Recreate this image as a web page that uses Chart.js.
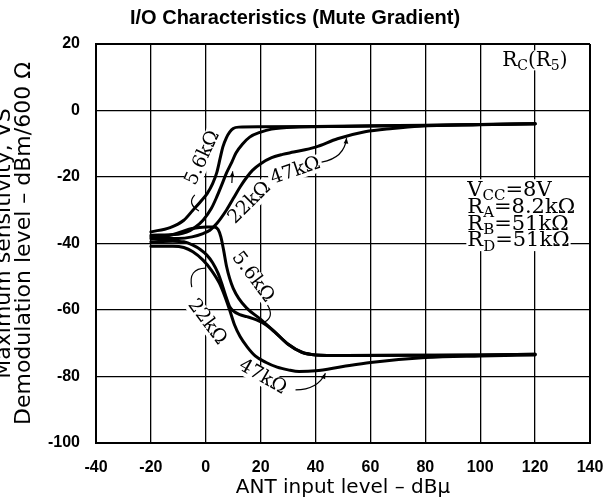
<!DOCTYPE html>
<html>
<head>
<meta charset="utf-8">
<title>I/O Characteristics (Mute Gradient)</title>
<script src="https://cdn.jsdelivr.net/npm/chart.js@4.4.1/dist/chart.umd.min.js"></script>
<style>
    html, body { margin: 0; padding: 0; background: #fff; }
    #wrap { width: 603px; height: 499px; }
</style>
</head>
<body>
<div id="wrap"><canvas id="myChart" width="603" height="499"></canvas></div>
<script>
// Tick values of the two axes
const xTickValues = [-40, -20, 0, 20, 40, 60, 80, 100, 120, 140];
const yTickValues = [20, 0, -20, -40, -60, -80, -100];

// Upper group (mute off), one curve per R_C
const up56X = [-20, -13, -8, -4.7, -2, 0.5, 2.5, 4, 5.2, 6.2, 7.5, 8.7, 10, 12, 20, 40, 60, 80, 100, 120];
const up56Y = [-36.5, -35.2, -33, -30, -27.5, -25, -22, -18.7, -14.5, -11, -8.2, -6.5, -5.4, -5, -4.9, -4.8, -4.6, -4.4, -4.2, -4];
const up22X = [-20, -10, -7, -4, -1, 2, 4, 6, 7.6, 9.5, 11, 13.5, 16, 20, 24, 34, 50, 80, 100, 120];
const up22Y = [-37.5, -37.2, -36.6, -35.2, -33, -29.5, -26, -22, -18.7, -15.5, -12.8, -10, -8, -6.5, -5.6, -5, -4.8, -4.5, -4.2, -4];
const up47X = [-20, -10, -5, -1, 1.5, 4, 7.5, 10, 12.5, 15, 17, 20, 24, 28, 32, 40, 48, 58, 68, 78, 100, 120];
const up47Y = [-38.5, -38.5, -38, -37, -36, -34, -30, -26.5, -23, -20, -18, -16, -14.2, -13.2, -12.5, -11, -8.5, -6.4, -5.4, -4.7, -4.3, -4];

// Lower group (mute on)
const lo56X = [-20, -13, -9, -5, 0, 3, 4.5, 5.5, 6.5, 7.6, 8.7, 10, 12, 15, 20, 25, 30, 35, 40, 50, 80, 100, 120];
const lo56Y = [-38, -37.5, -36.5, -35.5, -35, -35, -35.8, -38, -42, -47, -50.5, -53.5, -56.5, -59.5, -62.8, -66.5, -70.3, -72.7, -73.5, -73.7, -73.6, -73.5, -73.3];
const lo22X = [-20, -12, -8, -4.7, -2, 0.4, 2.5, 4.5, 6.2, 7.5, 8.7, 10, 12.4, 15, 18.5, 22, 25, 30, 35, 40, 50, 80, 100, 120];
const lo22Y = [-39.5, -39.3, -39.5, -40.5, -41.8, -43.5, -45.8, -49, -53, -56.3, -59, -60.3, -61.4, -62, -63, -64.5, -66.5, -70.3, -72.7, -73.5, -73.7, -73.6, -73.5, -73.3];
const lo47X = [-20, -12, -8, -4.7, -1, 2, 5, 7, 8.7, 10.5, 12.5, 15, 18, 22, 26, 30, 34, 40, 50, 60, 80, 100, 120];
const lo47Y = [-40.8, -40.8, -41.2, -42.5, -45, -48, -52, -56, -60, -64.5, -68, -71, -73.8, -75.8, -77.2, -78, -78.5, -78.3, -77, -75.8, -74.3, -73.8, -73.5];

// Curve labels (data coordinates, rotation in degrees)
const curveLabels = [
    { text: '5.6kΩ', x: -1.1, y: -14.3, angle: -65 },
    { text: '22kΩ', x: 16, y: -27.8, angle: -45 },
    { text: '47kΩ', x: 32.7, y: -18.2, angle: -19 },
    { text: '5.6kΩ', x: 17.1, y: -50.1, angle: 53 },
    { text: '22kΩ', x: 0.4, y: -63.6, angle: 53 },
    { text: '47kΩ', x: 20.7, y: -80.2, angle: 30 }
];

// Leader lines: start, control, end (data coordinates), arrow at end or not
const leaders = [
    { p: [[-4, -25.4], [-7, -28], [-2.5, -30.2]], arrow: false },
    { p: [[9.5, -21.8], [9.6, -20], [9.8, -18.3]], arrow: true },
    { p: [[42.2, -15.5], [50.5, -14.3], [51.3, -8.3]], arrow: true },
    { p: [[22.5, -58.5], [25, -62], [21.5, -63.6]], arrow: false },
    { p: [[-5.1, -53.1], [-6.5, -47.5], [0, -47.4]], arrow: false },
    { p: [[32.7, -84], [40.7, -84], [43.6, -79]], arrow: true }
];

// Condition texts: [text, subscript]
const rcLabel = [['R', 0], ['C', 1], ['(R', 0], ['5', 1], [')', 0]];
const paramLines = [
    [['V', 0], ['CC', 1], ['=8V', 0]],
    [['R', 0], ['A', 1], ['=8.2kΩ', 0]],
    [['R', 0], ['B', 1], ['=51kΩ', 0]],
    [['R', 0], ['D', 1], ['=51kΩ', 0]]
];
const paramX = 95.3;
const paramY = [-25.6, -30.7, -35.8, -40.9];

// Build {x, y} points from two arrays
function toPoints(xs, ys) {
    return xs.map((x, i) => ({ x: x, y: ys[i] }));
}

function richWidth(ctx, parts, size) {
    const subSize = Math.round(size * 0.72);
    let total = 0;
    parts.forEach(([t, sub]) => {
        ctx.font = (sub ? subSize : size) + 'px "DejaVu Serif"';
        total += ctx.measureText(t).width;
    });
    return total;
}

// White box behind a text line, so the grid does not run through it
function clearRich(ctx, parts, x, y, size) {
    ctx.fillStyle = '#fff';
    ctx.fillRect(x - 1, y - size * 0.78, richWidth(ctx, parts, size) + 2, size * 1.0);
}

// Draw text with subscripts
function drawRich(ctx, parts, x, y, size) {
    const subSize = Math.round(size * 0.72);
    ctx.fillStyle = '#000';
    ctx.textAlign = 'left';
    ctx.textBaseline = 'alphabetic';
    let cx = x;
    parts.forEach(([t, sub]) => {
        ctx.font = (sub ? subSize : size) + 'px "DejaVu Serif"';
        ctx.fillText(t, cx, sub ? y + size * 0.22 : y);
        cx += ctx.measureText(t).width;
    });
}

// Plugin for the texts and leaders drawn on the plot
const annotationPlugin = {
    id: 'annotations',
    beforeDatasetsDraw(chart) {
        const ctx = chart.ctx;
        const px = v => chart.scales.x.getPixelForValue(v);
        const py = v => chart.scales.y.getPixelForValue(v);
        ctx.save();

        curveLabels.forEach(l => {
            ctx.save();
            ctx.translate(px(l.x), py(l.y));
            ctx.rotate(l.angle * Math.PI / 180);
            ctx.font = '19px "DejaVu Serif"';
            const w = ctx.measureText(l.text).width;
            ctx.fillStyle = '#fff';
            ctx.fillRect(-w / 2 - 2, -9, w + 4, 18);
            ctx.fillStyle = '#000';
            ctx.textAlign = 'center';
            ctx.textBaseline = 'middle';
            ctx.fillText(l.text, 0, 0);
            ctx.restore();
        });

        clearRich(ctx, rcLabel, px(108), py(13.4), 20);
        drawRich(ctx, rcLabel, px(108), py(13.4), 20);
        paramLines.forEach((line, i) => clearRich(ctx, line, px(paramX), py(paramY[i]), 21));
        paramLines.forEach((line, i) => drawRich(ctx, line, px(paramX), py(paramY[i]), 21));
        ctx.restore();
    },
    afterDatasetsDraw(chart) {
        const ctx = chart.ctx;
        const px = v => chart.scales.x.getPixelForValue(v);
        const py = v => chart.scales.y.getPixelForValue(v);
        ctx.save();
        ctx.strokeStyle = '#000';
        ctx.fillStyle = '#000';
        ctx.lineWidth = 1.2;
        leaders.forEach(l => {
            const [a, c, b] = l.p.map(p => [px(p[0]), py(p[1])]);
            ctx.beginPath();
            ctx.moveTo(a[0], a[1]);
            ctx.quadraticCurveTo(c[0], c[1], b[0], b[1]);
            ctx.stroke();
            if (l.arrow) {
                const ang = Math.atan2(b[1] - c[1], b[0] - c[0]);
                ctx.beginPath();
                ctx.moveTo(b[0], b[1]);
                ctx.lineTo(b[0] - 6 * Math.cos(ang - 0.4), b[1] - 6 * Math.sin(ang - 0.4));
                ctx.lineTo(b[0] - 6 * Math.cos(ang + 0.4), b[1] - 6 * Math.sin(ang + 0.4));
                ctx.closePath();
                ctx.fill();
            }
        });
        ctx.restore();
    }
};

function curve(label, xs, ys) {
    return {
        label: label,
        data: toPoints(xs, ys),
        borderColor: '#000',
        borderWidth: 3,
        borderCapStyle: 'round',
        pointRadius: 0,
        fill: false,
        cubicInterpolationMode: 'monotone'
    };
}

function gridWidth(ctx, last) {
    return (ctx.index === 0 || ctx.index === last) ? 2 : 1.3;
}

const ctx = document.getElementById('myChart').getContext('2d');
new Chart(ctx, {
    type: 'line',
    data: {
        datasets: [
            curve('5.6kΩ (upper)', up56X, up56Y),
            curve('22kΩ (upper)', up22X, up22Y),
            curve('47kΩ (upper)', up47X, up47Y),
            curve('5.6kΩ (lower)', lo56X, lo56Y),
            curve('22kΩ (lower)', lo22X, lo22Y),
            curve('47kΩ (lower)', lo47X, lo47Y)
        ]
    },
    options: {
        responsive: false,
        maintainAspectRatio: false,
        animation: false,
        devicePixelRatio: 1,
        layout: { padding: { left: 0, right: 13, top: 0, bottom: 0 } },
        scales: {
            x: {
                type: 'linear',
                min: -40,
                max: 140,
                afterBuildTicks: scale => { scale.ticks = xTickValues.map(v => ({ value: v })); },
                afterFit: scale => {
                    scale.height = 56;
                    scale.paddingLeft = 0;
                    scale.paddingRight = 0;
                },
                grid: {
                    color: '#000',
                    lineWidth: c => gridWidth(c, xTickValues.length - 1),
                    drawTicks: false
                },
                border: { display: true, color: '#000', width: 2 },
                ticks: {
                    color: '#000',
                    padding: 15,
                    maxRotation: 0,
                    font: { family: 'Liberation Sans', size: 16, weight: 'bold' }
                },
                title: {
                    display: true,
                    text: 'ANT input level – dBμ',
                    color: '#000',
                    font: { family: 'DejaVu Sans', size: 20, lineHeight: 1 },
                    padding: { top: 0, bottom: 1 }
                }
            },
            y: {
                type: 'linear',
                min: -100,
                max: 20,
                afterBuildTicks: scale => { scale.ticks = yTickValues.map(v => ({ value: v })); },
                afterFit: scale => { scale.width = 96; },
                grid: {
                    color: '#000',
                    lineWidth: c => gridWidth(c, yTickValues.length - 1),
                    drawTicks: false
                },
                border: { display: true, color: '#000', width: 2 },
                ticks: {
                    color: '#000',
                    padding: 16,
                    font: { family: 'Liberation Sans', size: 16, weight: 'bold' }
                },
                title: {
                    display: true,
                    text: ['Maximum sensitivity, VS', 'Demodulation level – dBm/600 Ω'],
                    color: '#000',
                    font: { family: 'DejaVu Sans', size: 22, lineHeight: 0.9 },
                    padding: { top: -5.5, bottom: 0 }
                }
            }
        },
        plugins: {
            legend: { display: false },
            tooltip: { enabled: false },
            title: {
                display: true,
                text: 'I/O Characteristics (Mute Gradient)',
                color: '#000',
                font: { family: 'Liberation Sans', size: 20, weight: 'bold' },
                padding: { top: 6, bottom: 14 }
            }
        }
    },
    plugins: [annotationPlugin]
});
</script>
</body>
</html>
